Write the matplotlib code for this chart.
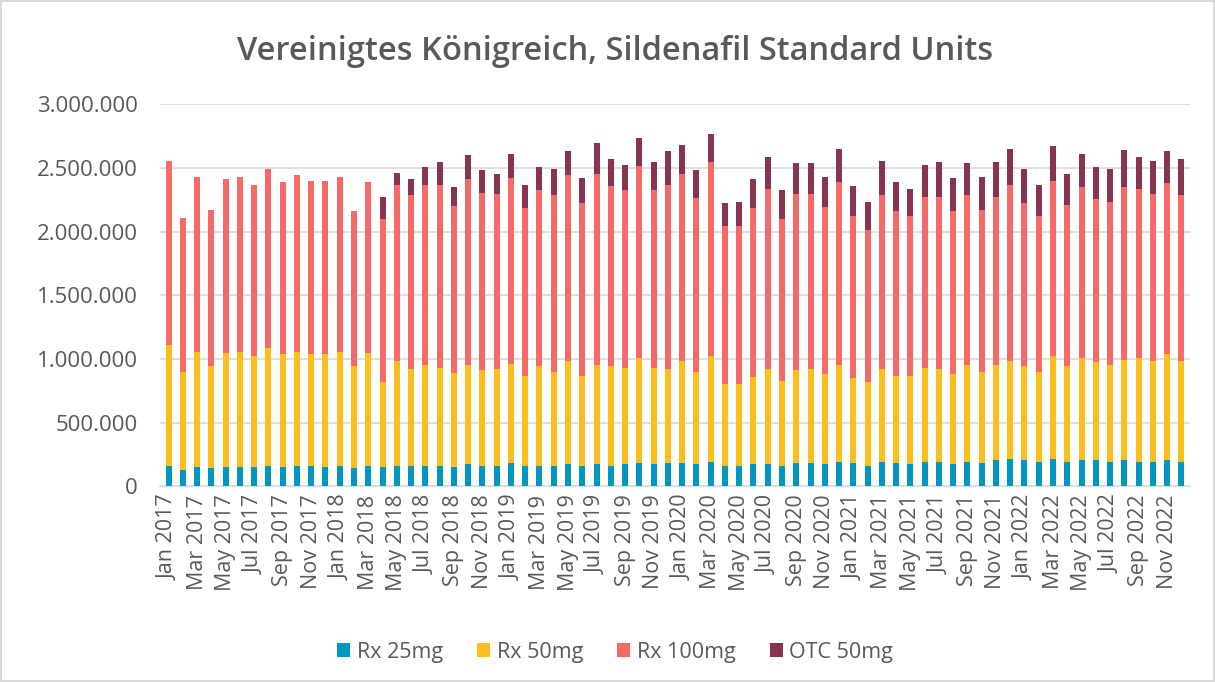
import numpy as np
import matplotlib
matplotlib.use("Agg")
import matplotlib.pyplot as plt
from matplotlib.ticker import FuncFormatter

months = ["Jan", "Feb", "Mar", "Apr", "May", "Jun", "Jul", "Aug", "Sep", "Oct", "Nov", "Dec"]
years = [2017, 2018, 2019, 2020, 2021, 2022]
labels = [f"{m} {y}" for y in years for m in months]

# values in thousands of standard units
rx25 = [161, 130, 151, 141, 151, 151, 151, 161, 151, 161, 161, 151,
        161, 141, 161, 151, 161, 161, 161, 161, 151, 172, 161, 161,
        182, 161, 161, 161, 172, 161, 172, 161, 172, 182, 172, 182,
        182, 172, 193, 161, 161, 172, 172, 161, 182, 182, 172, 193,
        182, 161, 193, 182, 172, 193, 193, 172, 193, 182, 203, 214,
        203, 193, 214, 193, 203, 203, 193, 203, 193, 193, 203, 193]
rx50 = [948, 771, 906, 802, 896, 906, 875, 927, 885, 896, 875, 885,
        896, 802, 886, 667, 823, 761, 792, 771, 740, 781, 750, 761,
        781, 709, 782, 740, 812, 709, 781, 782, 760, 823, 760, 740,
        802, 729, 833, 646, 646, 687, 750, 667, 729, 740, 708, 760,
        667, 657, 729, 688, 698, 739, 729, 708, 760, 719, 750, 770,
        740, 708, 812, 750, 802, 771, 760, 792, 812, 791, 833, 791]
rx100 = [1448, 1208, 1375, 1231, 1364, 1375, 1344, 1407, 1354, 1386, 1365, 1365,
         1375, 1218, 1343, 1281, 1386, 1364, 1417, 1438, 1312, 1458, 1396, 1375,
         1459, 1312, 1385, 1385, 1459, 1354, 1500, 1416, 1396, 1510, 1396, 1448,
         1469, 1365, 1521, 1240, 1240, 1323, 1416, 1271, 1386, 1375, 1313, 1437,
         1271, 1198, 1364, 1291, 1250, 1344, 1354, 1281, 1333, 1271, 1323, 1386,
         1281, 1219, 1375, 1270, 1344, 1281, 1281, 1354, 1333, 1313, 1344, 1302]
otc50 = [0, 0, 0, 0, 0, 0, 0, 0, 0, 0, 0, 0,
         0, 0, 0, 177, 93, 125, 135, 177, 146, 188, 177, 156,
         187, 188, 177, 209, 187, 198, 240, 209, 198, 219, 219, 260,
         229, 218, 219, 177, 187, 229, 250, 229, 239, 239, 239, 261,
         239, 218, 271, 229, 218, 250, 271, 261, 250, 260, 271, 281,
         271, 250, 271, 240, 260, 250, 261, 291, 250, 260, 250, 282]

series = [("Rx 25mg", rx25, "#0096C1"),
          ("Rx 50mg", rx50, "#FBBE1E"),
          ("Rx 100mg", rx100, "#F56A69"),
          ("OTC 50mg", otc50, "#873450")]

grey = "#595959"
plt.rcParams["font.family"] = ["Open Sans", "DejaVu Sans"]

fig = plt.figure(figsize=(12.15, 6.82), dpi=100)
fig.patch.set_edgecolor("#D9D9D9")
fig.patch.set_linewidth(1.5)
ax = fig.add_axes([0.1317, 0.287, 0.8477, 0.560])

x = np.arange(len(labels))
bottom = np.zeros(len(labels))
for name, vals, color in series:
    v = np.array(vals) * 1000
    ax.bar(x, v, 0.42, bottom=bottom, color=color, label=name, zorder=3)
    bottom += v

ax.set_xlim(-0.6, len(labels) - 0.4)
ax.set_ylim(0, 3000000)
ax.set_yticks(np.arange(0, 3000001, 500000))
ax.yaxis.set_major_formatter(FuncFormatter(lambda v, p: f"{int(v):,}".replace(",", ".")))
ax.grid(axis="y", color="#D9D9D9", linewidth=1.2, zorder=0)
ax.set_xticks(x[::2])
ax.set_xticklabels(labels[::2], rotation=90)
ax.tick_params(axis="both", length=0, colors=grey)
ax.tick_params(axis="x", labelsize=15.5, pad=6)
ax.tick_params(axis="y", labelsize=16, pad=16)
for s in ["top", "right", "left"]:
    ax.spines[s].set_visible(False)
ax.spines["bottom"].set_color("#D9D9D9")
ax.spines["bottom"].set_linewidth(1.2)

fig.text(0.506, 0.925, "Vereinigtes Königreich, Sildenafil Standard Units",
         ha="center", va="center", fontsize=23.5, fontweight="semibold", color=grey)

ax.legend(loc="center", bbox_to_anchor=(0.442, -0.435), ncol=4, frameon=False,
          fontsize=15.5, labelcolor=grey, handlelength=0.6, handleheight=0.6,
          handletextpad=0.3, columnspacing=1.6)

fig.savefig("out.png", dpi=100)
